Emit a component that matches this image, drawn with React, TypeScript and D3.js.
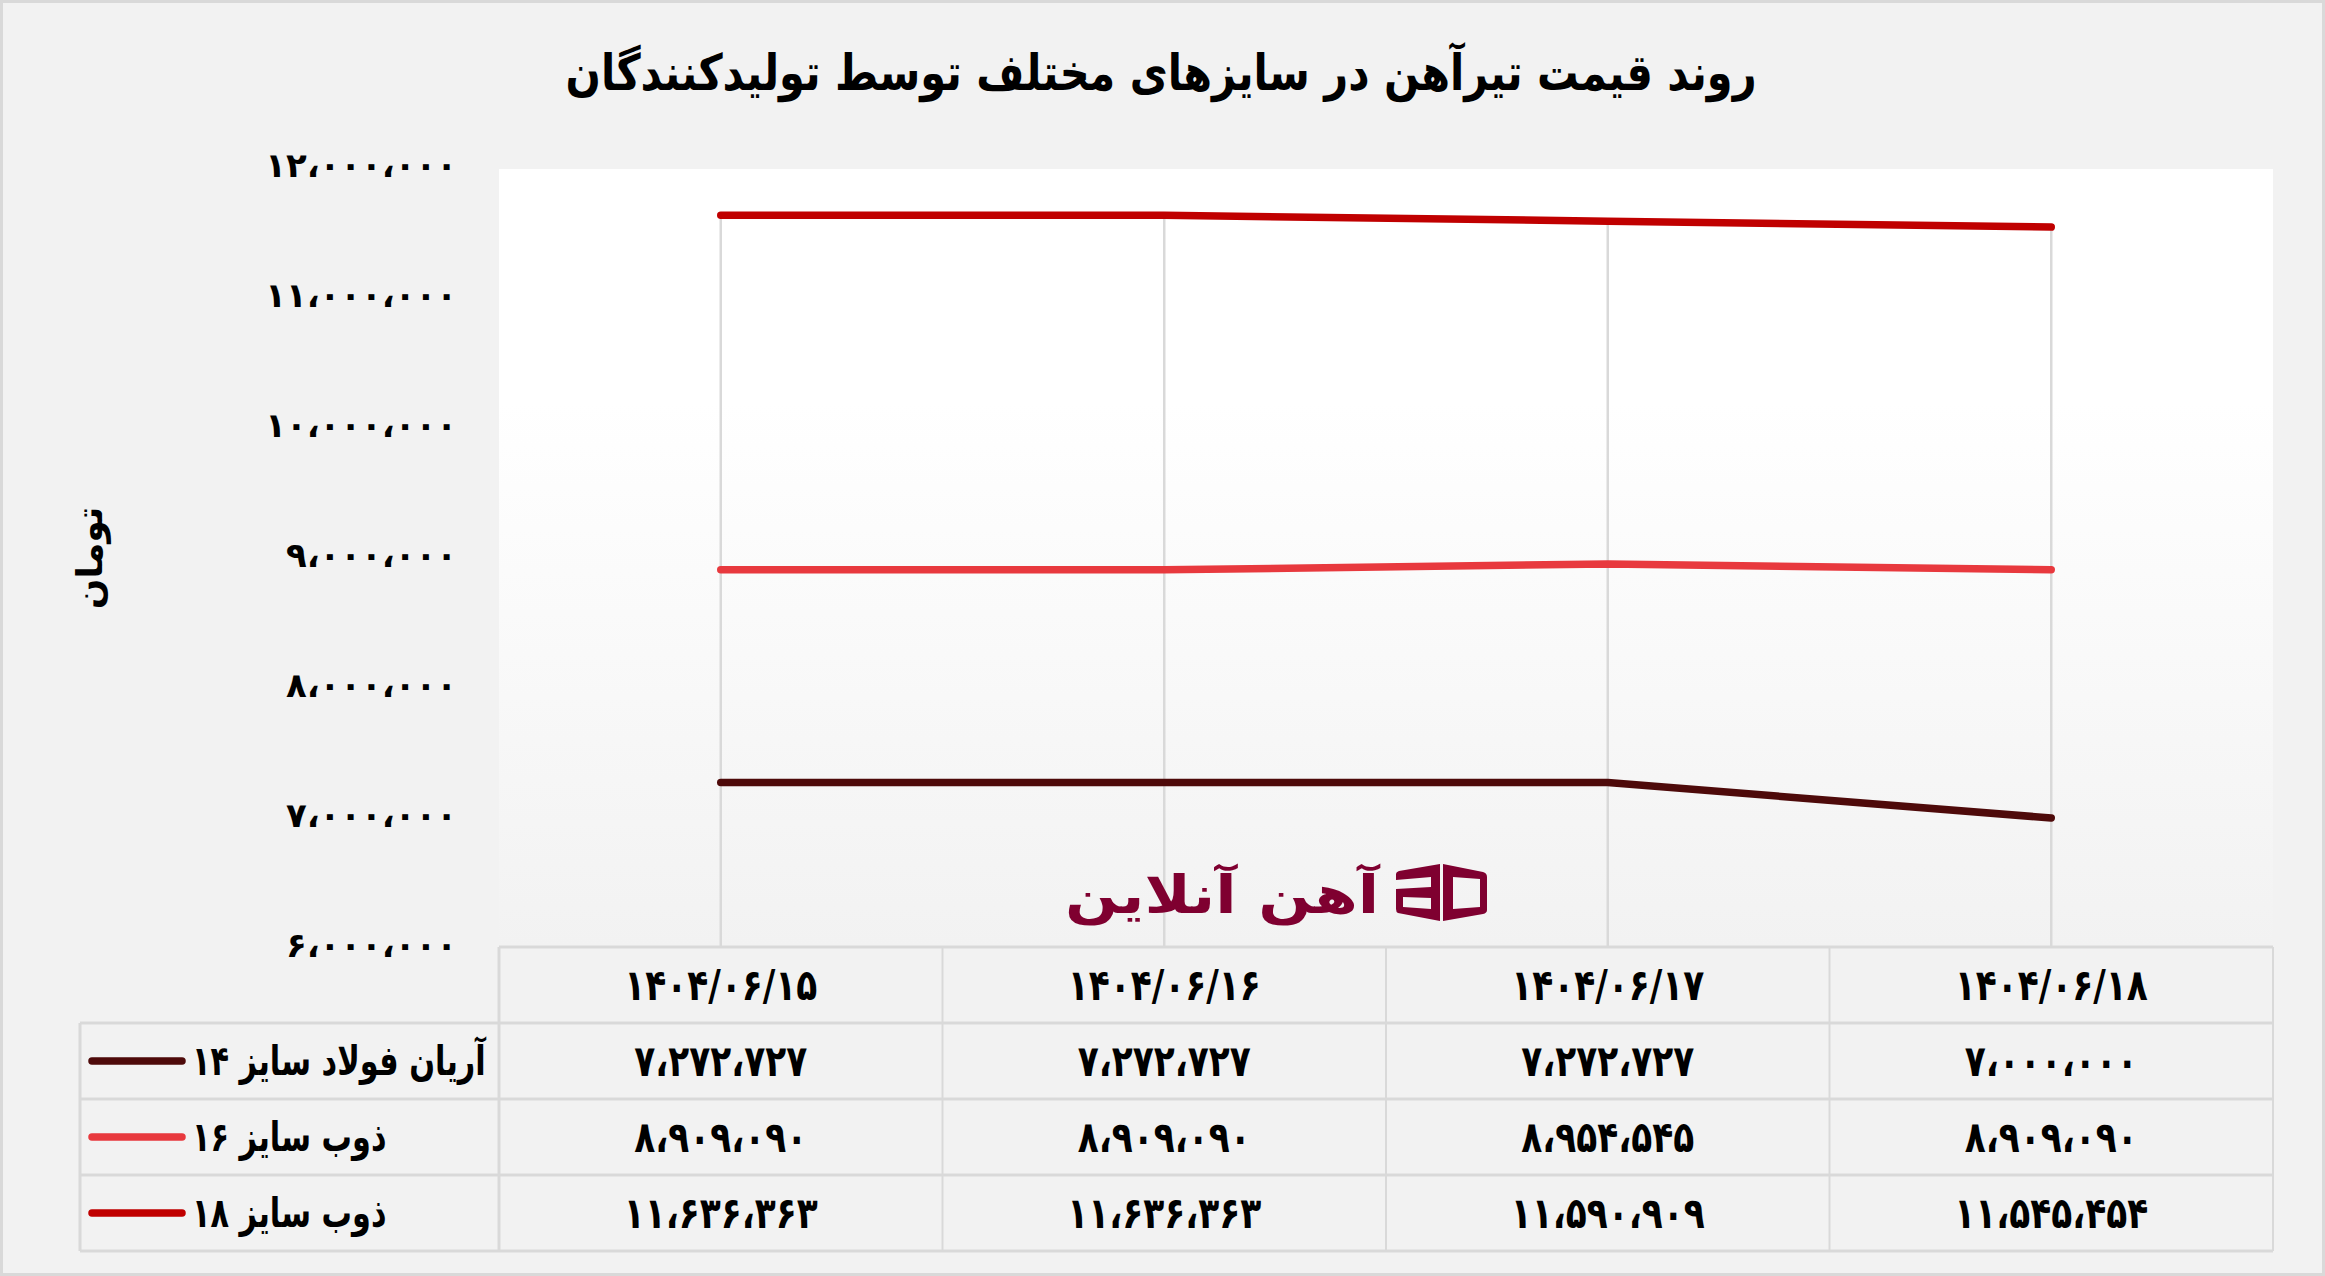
import React from 'react';
import * as d3 from 'd3';

// chart data
const dates = ['۱۴۰۴/۰۶/۱۵', '۱۴۰۴/۰۶/۱۶', '۱۴۰۴/۰۶/۱۷', '۱۴۰۴/۰۶/۱۸'];
const seriesNames = ['آریان فولاد سایز ۱۴', 'ذوب سایز ۱۶', 'ذوب سایز ۱۸'];
const seriesColors = ['#4e0a0a', '#e8393e', '#c00000'];
const aryan14 = [7272727, 7272727, 7272727, 7000000];
const zob16 = [8909090, 8909090, 8954545, 8909090];
const zob18 = [11636363, 11636363, 11590909, 11545454];
const yTicks = [6000000, 7000000, 8000000, 9000000, 10000000, 11000000, 12000000];

const title = 'روند قیمت تیرآهن در سایزهای مختلف توسط تولیدکنندگان';
const yTitle = 'تومان';
const logoText = 'آهن آنلاین';

const W = 2325;
const H = 1276;
const FONT = '"DejaVu Sans", "Noto Sans", sans-serif';
const GRID = '#d9d9d9';

const faDigits = '۰۱۲۳۴۵۶۷۸۹';
const fmt = (v: number) =>
  d3.format(',')(v).replace(/,/g, '،').replace(/[0-9]/g, (d) => faDigits[+d]);

// condensed, tall bold text (the reference uses a narrow heavy Persian face)
const Narrow = ({ x, y, sx, size, anchor, children }: any) => (
  <g transform={`translate(${x},${y}) scale(${sx},1)`}>
    <text x={0} y={0} textAnchor={anchor} fontSize={size} fontWeight="bold" fill="#000">
      {children}
    </text>
  </g>
);

export default function App() {
  const series = [aryan14, zob16, zob18];

  const plotLeft = 499;
  const plotRight = 2273;
  const plotTop = 168;
  const plotBottom = 948;

  const x = d3.scaleBand<string>().domain(dates).range([plotLeft, plotRight]);
  const cx = (d: string) => (x(d) ?? 0) + x.bandwidth() / 2;
  const y = d3.scaleLinear().domain([6000000, 12000000]).range([plotBottom, plotTop]);

  const rows = ['header', ...seriesNames];
  const rowY = d3.scaleBand<string>().domain(rows).range([947, 1251]);
  const tableLeft = 80;

  const line = d3
    .line<number>()
    .x((_, i) => cx(dates[i]))
    .y((v) => y(v));

  return (
    <div>
      <style>{`body{margin:0}`}</style>
      <svg width={W} height={H} style={{ display: 'block', fontFamily: FONT }}>
        <defs>
          <linearGradient id="plotBg" x1="0" y1="0" x2="0" y2="1">
            <stop offset="0" stopColor="#ffffff" />
            <stop offset="0.3" stopColor="#ffffff" />
            <stop offset="1" stopColor="#f2f2f2" />
          </linearGradient>
        </defs>
        {/* background + frame */}
        <rect x={1.5} y={1.5} width={W - 3} height={H - 3} fill="#f2f2f2" stroke={GRID} strokeWidth={3} />

        {/* title */}
        <Narrow x={1161} y={90} sx={0.83} size={50} anchor="middle">
          {title}
        </Narrow>

        {/* plot area */}
        <rect x={plotLeft} y={plotTop + 1} width={plotRight - plotLeft} height={plotBottom - plotTop - 1} fill="url(#plotBg)" />

        {/* y tick labels */}
        {yTicks.map((t) => (
          <text key={t} x={457} y={y(t) + 9} textAnchor="end" fontSize={34} fontWeight="bold" fill="#000">
            {fmt(t)}
          </text>
        ))}

        {/* y axis title */}
        <text
          transform={`translate(102,558) rotate(-90)`}
          textAnchor="middle"
          fontSize={36}
          fontWeight="bold"
          fill="#000"
        >
          {yTitle}
        </text>

        {/* drop lines */}
        {dates.map((d, i) => (
          <line
            key={d}
            x1={cx(d)}
            x2={cx(d)}
            y1={y(d3.max(series, (s) => s[i]) ?? 0)}
            y2={plotBottom}
            stroke={GRID}
            strokeWidth={2.5}
          />
        ))}

        {/* logo */}
        <g>
          <g transform="translate(1222,913) scale(1.2,1)">
            <text x={0} y={0} textAnchor="middle" fontSize={52} fill="#7f0030" fontWeight="bold">
              {logoText}
            </text>
          </g>
          <g transform="translate(1396,864)" fill="#7f0030">
            <path
              fillRule="evenodd"
              d="M44,0 L44,57 L2,49 Q0,48 0,45 L0,25 L35,23 L35,13 L0,16 L0,10 Q0,8 3,7 Z M7,33 L7,43 L35,45 L35,34 Z"
            />
            <path
              fillRule="evenodd"
              d="M47,0 L87,8 Q91,9 91,13 L91,46 Q91,49 87,50 L47,57 Z M57,13 L57,45 L84,43 L84,15 Z"
            />
          </g>
        </g>

        {/* series lines */}
        {series.map((s, i) => (
          <path
            key={seriesNames[i]}
            d={line(s) ?? ''}
            fill="none"
            stroke={seriesColors[i]}
            strokeWidth={7.5}
            strokeLinecap="round"
            strokeLinejoin="round"
          />
        ))}

        {/* data table grid */}
        <g stroke={GRID} strokeWidth={3} fill="none">
          <line x1={plotLeft} x2={plotRight} y1={rowY('header')!} y2={rowY('header')!} />
          {seriesNames.map((n) => (
            <line key={n} x1={tableLeft} x2={plotRight} y1={rowY(n)!} y2={rowY(n)!} />
          ))}
          <line x1={tableLeft} x2={plotRight} y1={1251} y2={1251} />
          <line x1={tableLeft} x2={tableLeft} y1={rowY(seriesNames[0])!} y2={1251} />
          <line x1={plotLeft} x2={plotLeft} y1={rowY('header')!} y2={1251} />
          {dates.map((d) => (
            <line key={d} x1={(x(d) ?? 0) + x.bandwidth()} x2={(x(d) ?? 0) + x.bandwidth()} y1={rowY('header')!} y2={1251} strokeWidth={2} />
          ))}
        </g>

        {/* header row: dates */}
        {dates.map((d) => (
          <Narrow key={d} x={cx(d)} y={rowY('header')! + rowY.bandwidth() / 2 + 15} sx={0.8} size={43} anchor="middle">
            {d}
          </Narrow>
        ))}

        {/* legend column + values */}
        {seriesNames.map((n, i) => {
          const cy = rowY(n)! + rowY.bandwidth() / 2;
          return (
            <g key={n}>
              <line x1={92} x2={182} y1={cy} y2={cy} stroke={seriesColors[i]} strokeWidth={7.5} strokeLinecap="round" />
              <Narrow x={192} y={cy + 14} sx={0.74} size={41} anchor="start">
                {n}
              </Narrow>
              {series[i].map((v, j) => (
                <Narrow key={j} x={cx(dates[j])} y={cy + 15} sx={0.8} size={43} anchor="middle">
                  {fmt(v)}
                </Narrow>
              ))}
            </g>
          );
        })}
      </svg>
    </div>
  );
}
